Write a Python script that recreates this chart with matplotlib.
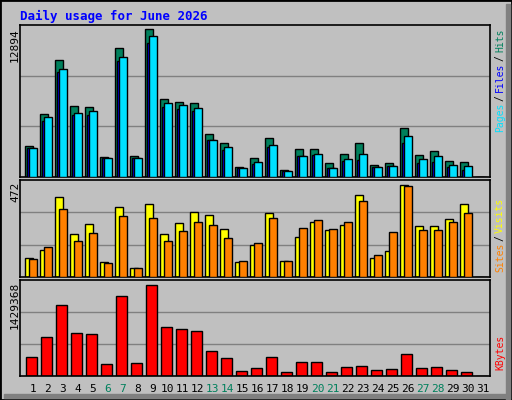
import numpy as np
import matplotlib
matplotlib.use('Agg')
import matplotlib.pyplot as plt
from matplotlib.patches import Rectangle

days = list(range(1, 32))
weekend = [6, 7, 13, 14, 20, 21, 27, 28]

hits = [2680, 5474, 10188, 6172, 6085, 1720, 11236, 1807, 12894, 6783, 6521, 6434, 3728, 2942, 847,
        1632, 3379, 585, 2418, 2418, 1196, 1982, 2942, 1021, 1196, 4252, 1894, 2244, 1371, 1283, 0]
files = [2506, 4889, 9140, 5413, 5413, 1633, 10127, 1633, 11611, 6111, 5936, 5762, 3204, 2357, 760,
         1135, 2593, 498, 1807, 1894, 760, 1371, 1458, 847, 934, 2942, 1196, 1283, 847, 585, 0]
pages = [2506, 5212, 9402, 5561, 5736, 1633, 10450, 1633, 12283, 6434, 6259, 5998, 3204, 2593, 760,
         1283, 2767, 498, 1807, 1982, 760, 1545, 1982, 847, 934, 3553, 1545, 1807, 1021, 934, 0]
visits = [99, 140, 411, 222, 273, 78, 360, 48, 375, 222, 278, 334, 319, 247, 78,
          165, 329, 83, 206, 283, 242, 268, 421, 99, 135, 472, 262, 262, 298, 375, 0]
sites = [94, 155, 349, 186, 227, 73, 314, 48, 303, 186, 237, 283, 268, 201, 83,
         176, 303, 83, 252, 293, 247, 283, 390, 114, 232, 467, 242, 242, 283, 329, 0]
kbytes = [302586, 615606, 1116438, 678210, 662559, 193029, 1257297, 208680, 1429368, 772116, 740814,
          709512, 396492, 286935, 83472, 130425, 302586, 67821, 224331, 224331, 67821, 146076,
          161727, 99123, 114774, 349539, 130425, 146076, 99123, 67821, 0]

BG = '#C0C0C0'
W, H = 512, 400
fig = plt.figure(figsize=(W / 100, H / 100), dpi=100, facecolor=BG)
mono = 'DejaVu Sans Mono'


def px_axes(x, y, w, h):
    ax = fig.add_axes([x / W, 1 - (y + h) / H, w / W, h / H])
    ax.set_facecolor(BG)
    ax.set_xlim(0, w)
    ax.set_xticks([])
    ax.set_yticks([])
    for s in ax.spines.values():
        s.set_color('black')
        s.set_linewidth(1.2)
    return ax


def side(y, txt, color):
    fig.text(500 / W, 1 - y / H, txt, rotation=90, color=color, family=mono, fontsize=7,
             ha='center', va='top')


# frame
fig.patches.append(Rectangle((0, 0), 1, 1, transform=fig.transFigure, fill=False,
                             edgecolor='black', linewidth=2))
fig.patches.append(Rectangle((506 / W, 0), 4 / W, 1 - 4 / H, transform=fig.transFigure,
                             color='#808080'))
fig.patches.append(Rectangle((4 / W, 2 / H), 1 - 8 / W, 4 / H, transform=fig.transFigure,
                             color='#808080'))

fig.text(20 / W, 1 - 16 / H, 'Daily usage for June 2026', color='#0000FF', family=mono,
         fontweight='bold', fontsize=9, va='center')

x0 = np.array([5.3 + 15 * (d - 1) for d in days])


def grid(ax, top):
    for f in (1 / 3, 2 / 3):
        ax.axhline(top * f, color='#808080', linewidth=1, zorder=0)


# top panel
ax = px_axes(20, 25, 470, 152)
top = max(hits) * 1.025
ax.set_ylim(0, top)
grid(ax, top)
ax.bar(x0, hits, width=7.4, align='edge', color='#00805C', edgecolor='black', linewidth=1, zorder=2)
ax.bar(x0 + 2, files, width=7.4, align='edge', color='#0000FF', edgecolor='black', linewidth=1, zorder=3)
ax.bar(x0 + 4, pages, width=7.4, align='edge', color='#00E0FF', edgecolor='black', linewidth=1, zorder=4)
fig.text(15 / W, 1 - 28 / H, '12894', rotation=90, family=mono, fontsize=8, ha='center', va='top')
side(28, 'Hits', '#00805C')
side(55, '/', 'black')
side(63, 'Files', '#0000FF')
side(95, '/', 'black')
side(103, 'Pages', '#00E0FF')

# middle panel
ax = px_axes(20, 180, 470, 97)
top = max(visits) * 1.05
ax.set_ylim(0, top)
grid(ax, top)
ax.bar(x0, visits, width=7.4, align='edge', color='#FFFF00', edgecolor='black', linewidth=1, zorder=2)
ax.bar(x0 + 4, sites, width=7.4, align='edge', color='#FF8000', edgecolor='black', linewidth=1, zorder=3)
fig.text(15 / W, 1 - 182 / H, '472', rotation=90, family=mono, fontsize=8, ha='center', va='top')
side(198, 'Visits', '#FFFF00')
side(235, '/', 'black')
side(243, 'Sites', '#FF8000')

# bottom panel
ax = px_axes(20, 280, 470, 96)
top = max(kbytes) * 1.05
ax.set_ylim(0, top)
grid(ax, top)
ax.bar(x0 + 0.7, kbytes, width=10.7, align='edge', color='#FF0000', edgecolor='black', linewidth=1, zorder=2)
fig.text(15 / W, 1 - 282 / H, '1429368', rotation=90, family=mono, fontsize=8, ha='center', va='top')
side(335, 'KBytes', '#FF0000')

for d, x in zip(days, x0):
    c = '#00805C' if d in weekend else 'black'
    fig.text((20 + x + 7.5) / W, 1 - 389 / H, str(d), color=c, family=mono, fontsize=8,
             ha='center', va='center')

fig.savefig('out.png', dpi=100, facecolor=BG)
